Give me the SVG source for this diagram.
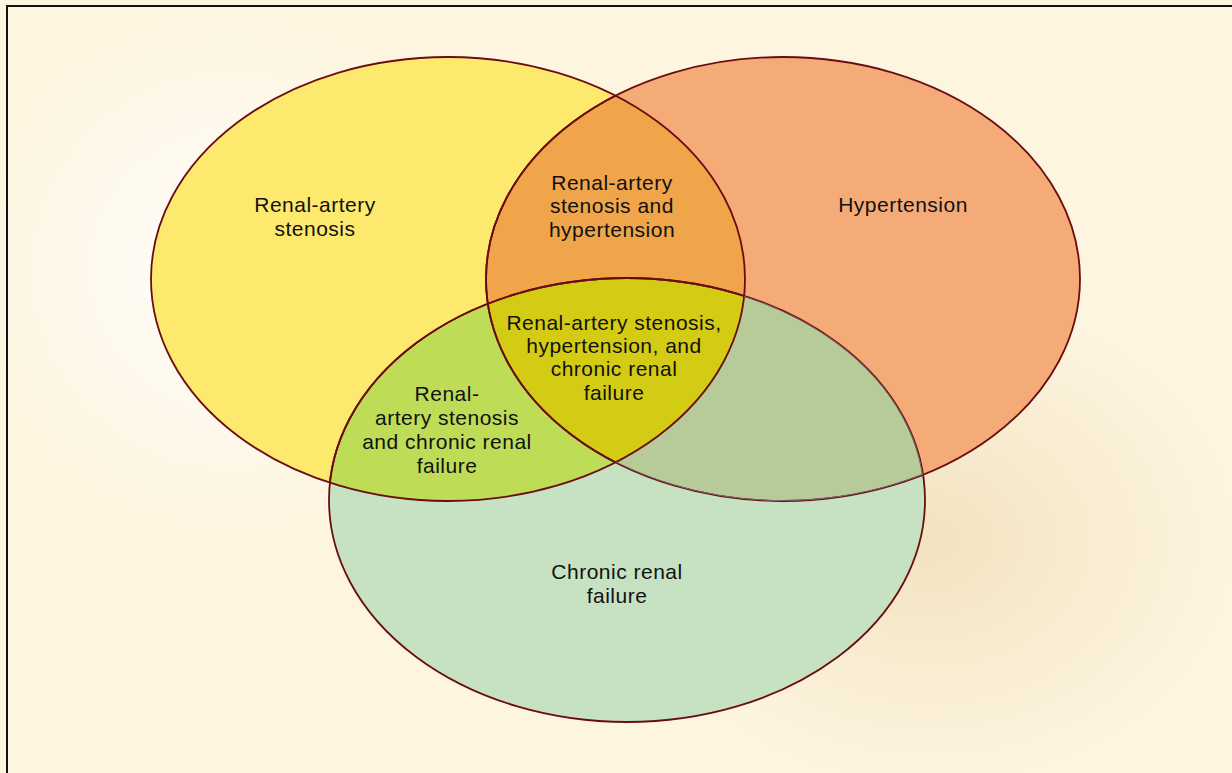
<svg xmlns="http://www.w3.org/2000/svg" width="1232" height="773" viewBox="0 0 1232 773">
<defs>
<radialGradient id="glow" cx="230" cy="270" r="260" gradientUnits="userSpaceOnUse">
<stop offset="0" stop-color="#ffffff" stop-opacity="0.9"/>
<stop offset="1" stop-color="#ffffff" stop-opacity="0"/>
</radialGradient>
<radialGradient id="shade" cx="930" cy="540" r="300" gradientUnits="userSpaceOnUse" gradientTransform="translate(930 540) scale(1 0.8) translate(-930 -540)">
<stop offset="0" stop-color="#f3e2c0" stop-opacity="1"/>
<stop offset="1" stop-color="#f3e2c0" stop-opacity="0"/>
</radialGradient>
<ellipse id="eY" cx="448" cy="279" rx="297" ry="222"/>
<ellipse id="eO" cx="783" cy="279" rx="297" ry="222"/>
<ellipse id="eG" cx="627" cy="500" rx="298" ry="222"/>
<clipPath id="cY"><use href="#eY"/></clipPath>
<clipPath id="cO"><use href="#eO"/></clipPath>
<clipPath id="cG"><use href="#eG"/></clipPath>
</defs>
<style>
.lbl{font-family:"Liberation Sans",Arial,sans-serif;font-size:21px;letter-spacing:0.5px;fill:#111;text-anchor:middle}
.st{fill:none;stroke:#6b0d10;stroke-width:1.8}
.sg{fill:none;stroke:#7a6272;stroke-width:1.8}
</style>
<rect x="0" y="0" width="1232" height="773" fill="#fdf5e0"/>
<rect x="0" y="0" width="1232" height="773" fill="url(#glow)"/>
<rect x="0" y="0" width="1232" height="773" fill="url(#shade)"/>
<path d="M7 773 V6 H1232" fill="none" stroke="#111" stroke-width="2"/>

<g id="fills">
<use href="#eY" fill="#fde96e"/>
<use href="#eO" fill="#f5ab78"/>
<use href="#eG" fill="#c6e2c2"/>
<g clip-path="url(#cO)"><use href="#eY" fill="#f0a54a"/></g>
<g clip-path="url(#cG)"><use href="#eY" fill="#bedc56"/></g>
<g clip-path="url(#cG)"><use href="#eO" fill="#b7cb98"/></g>
<g clip-path="url(#cG)"><g clip-path="url(#cO)"><use href="#eY" fill="#d4cb14"/></g></g>
</g>

<g id="outlines">
<use href="#eY" class="st"/>
<use href="#eO" class="st"/>
<use href="#eG" class="st"/>
<g clip-path="url(#cO)"><g clip-path="url(#cG)"><use href="#eO" class="sg"/><use href="#eG" class="sg"/></g></g>
<g clip-path="url(#cY)"><use href="#eO" class="st"/><use href="#eG" class="st"/></g>
</g>

<g id="ras"><text class="lbl" x="315" y="212">Renal-artery</text><text class="lbl" x="315" y="236">stenosis</text></g>
<g id="ras-ht"><text class="lbl" x="612" y="190">Renal-artery</text><text class="lbl" x="612" y="213">stenosis and</text><text class="lbl" x="612" y="237">hypertension</text></g>
<g id="ht"><text class="lbl" x="903" y="212">Hypertension</text></g>
<g id="all"><text class="lbl" x="614" y="330">Renal-artery stenosis,</text><text class="lbl" x="614" y="353">hypertension, and</text><text class="lbl" x="614" y="376">chronic renal</text><text class="lbl" x="614" y="400">failure</text></g>
<g id="ras-crf"><text class="lbl" x="447" y="401">Renal-</text><text class="lbl" x="447" y="425">artery stenosis</text><text class="lbl" x="447" y="449">and chronic renal</text><text class="lbl" x="447" y="473">failure</text></g>
<g id="crf"><text class="lbl" x="617" y="579">Chronic renal</text><text class="lbl" x="617" y="603">failure</text></g>
</svg>
